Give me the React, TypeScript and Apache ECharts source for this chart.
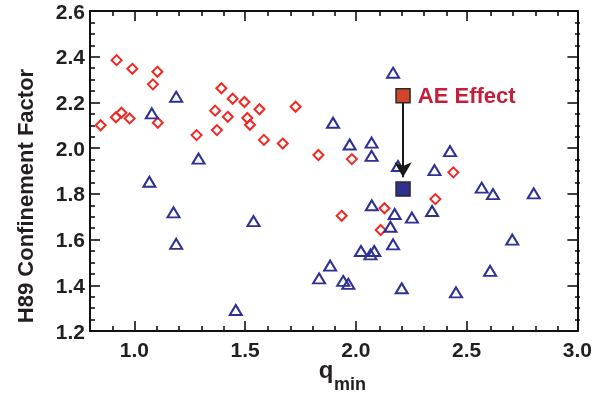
import React, { useEffect, useRef } from "react";
import * as echarts from "echarts";

// q_min values and H89 confinement factor
const diamondX = [0.848, 0.92, 0.917, 0.942, 0.979, 0.991, 1.084, 1.104, 1.106, 1.281, 1.373, 1.365, 1.393, 1.422, 1.444, 1.497, 1.51, 1.522, 1.565, 1.585, 1.67, 1.728, 1.831, 1.982, 2.44, 2.359, 2.129, 1.936, 2.112];
const diamondY = [2.10, 2.385, 2.135, 2.155, 2.13, 2.347, 2.279, 2.334, 2.111, 2.057, 2.079, 2.164, 2.262, 2.137, 2.216, 2.202, 2.132, 2.102, 2.17, 2.036, 2.02, 2.181, 1.97, 1.952, 1.894, 1.777, 1.737, 1.704, 1.642];

const triangleX = [1.079, 1.189, 1.068, 1.29, 1.177, 1.189, 1.538, 1.458, 1.897, 1.972, 2.071, 2.071, 2.19, 2.355, 2.425, 2.568, 2.619, 2.072, 2.175, 2.253, 2.344, 2.156, 2.168, 2.023, 2.066, 2.083, 1.884, 1.834, 1.943, 1.966, 2.207, 2.452, 2.606, 2.168, 2.803, 2.706];
const triangleY = [2.152, 2.225, 1.853, 1.954, 1.719, 1.581, 1.681, 1.292, 2.111, 2.016, 2.024, 1.966, 1.922, 1.904, 1.987, 1.827, 1.799, 1.75, 1.712, 1.696, 1.725, 1.656, 1.579, 1.55, 1.535, 1.55, 1.486, 1.43, 1.419, 1.406, 1.387, 1.369, 1.463, 2.33, 1.802, 1.6];

const aeX = 2.213;
const aeBefore = 2.229;
const aeAfter = 1.821;
const aeLabel = "AE Effect";

const xMajor = [1.0, 1.5, 2.0, 2.5, 3.0];
const xMinor = [0.9, 1.1, 1.2, 1.3, 1.4, 1.6, 1.7, 1.8, 1.9, 2.1, 2.2, 2.3, 2.4, 2.6, 2.7, 2.8, 2.9];
const yMajor = [1.2, 1.4, 1.6, 1.8, 2.0, 2.2, 2.4, 2.6];
const yMinor = [1.25, 1.3, 1.35, 1.45, 1.5, 1.55, 1.65, 1.7, 1.75, 1.85, 1.9, 1.95, 2.05, 2.1, 2.15, 2.25, 2.3, 2.35, 2.45, 2.5, 2.55];

const X_MIN = 0.8, X_MAX = 3.0, Y_MIN = 1.2, Y_MAX = 2.6;

const FONT = "'Liberation Sans', Arial, Helvetica, sans-serif";
const INK = "#231f20";

export default function App() {
  const ref = useRef<HTMLDivElement>(null);
  useEffect(() => {
    if (!ref.current) return;
    const chart = echarts.init(ref.current, undefined, { renderer: "svg" });
    const gridRect = { left: 90, top: 11, right: 15, bottom: 63 };
    const lineStyle = { color: "#111", width: 2 };
    const mkX = (grid: number, pos: string, major: boolean, labels: boolean) => ({
      type: "value", gridIndex: grid, position: pos, min: X_MIN, max: X_MAX,
      axisLine: { show: major, onZero: false, lineStyle },
      axisTick: { show: true, inside: true, length: major ? 10 : 5, customValues: major ? xMajor : xMinor, lineStyle: { color: "#111", width: 1.6 } },
      axisLabel: labels ? { show: true, customValues: xMajor, formatter: (v: number) => v.toFixed(1), fontFamily: FONT, fontWeight: "bold", fontSize: 21, color: INK, margin: 8 } : { show: false },
      splitLine: { show: false },
    });
    const mkY = (grid: number, pos: string, major: boolean, labels: boolean) => ({
      type: "value", gridIndex: grid, position: pos, min: Y_MIN, max: Y_MAX,
      axisLine: { show: major, onZero: false, lineStyle },
      axisTick: { show: true, inside: true, length: major ? 10 : 5, customValues: major ? yMajor : yMinor, lineStyle: { color: "#111", width: 1.6 } },
      axisLabel: labels ? { show: true, customValues: yMajor, formatter: (v: number) => v.toFixed(1), fontFamily: FONT, fontWeight: "bold", fontSize: 21, color: INK, margin: 5 } : { show: false },
      splitLine: { show: false },
    });
    chart.setOption({
      animation: false,
      grid: [{ ...gridRect }, { ...gridRect }],
      xAxis: [mkX(0, "bottom", true, true), mkX(0, "top", true, false), mkX(1, "bottom", false, false), mkX(1, "top", false, false)],
      yAxis: [mkY(0, "left", true, true), mkY(0, "right", true, false), mkY(1, "left", false, false), mkY(1, "right", false, false)],
      graphic: [
        { type: "text", x: 25, y: 196, rotation: Math.PI / 2, style: { text: "H89 Confinement Factor", font: `bold 22px ${FONT}`, fill: INK, align: "center", verticalAlign: "middle" } },
        { type: "text", x: 326, y: 369, style: { text: "q", font: `bold 24px ${FONT}`, fill: INK, align: "center", verticalAlign: "middle" } },
        { type: "text", x: 334, y: 384, style: { text: "min", font: `bold 18px ${FONT}`, fill: INK, align: "left", verticalAlign: "middle" } },
      ],
      series: [
        {
          type: "scatter", xAxisIndex: 0, yAxisIndex: 0, symbol: "diamond", symbolSize: [10, 10],
          itemStyle: { color: "rgba(255,255,255,0)", borderColor: "#ee2a24", borderWidth: 2, opacity: 1 },
          data: diamondX.map((x, i) => [x, diamondY[i]]), z: 3,
        },
        {
          type: "scatter", xAxisIndex: 0, yAxisIndex: 0, symbol: "triangle", symbolSize: [12, 10],
          itemStyle: { color: "rgba(255,255,255,0)", borderColor: "#2e3192", borderWidth: 2, opacity: 1 },
          data: triangleX.map((x, i) => [x, triangleY[i]]), z: 3,
        },
        {
          type: "line", xAxisIndex: 0, yAxisIndex: 0, data: [], z: 4,
          markLine: {
            silent: true, symbol: ["none", "arrow"], symbolSize: [13, 15],
            lineStyle: { color: "#1a1a1a", width: 2, type: "solid", opacity: 1 }, label: { show: false },
            data: [[{ coord: [aeX, aeBefore - 0.03] }, { coord: [aeX, aeAfter + 0.052] }]],
          },
        },
        {
          type: "scatter", xAxisIndex: 0, yAxisIndex: 0, symbol: "rect", symbolSize: 14, z: 5,
          itemStyle: { color: "#d2452b", borderColor: "#2a2a2a", borderWidth: 1.5, opacity: 1 },
          label: { show: true, position: "right", distance: 7, formatter: aeLabel, fontFamily: FONT, fontWeight: "bold", fontSize: 22, color: "#c41e3a" },
          data: [[aeX, aeBefore]],
        },
        {
          type: "scatter", xAxisIndex: 0, yAxisIndex: 0, symbol: "rect", symbolSize: 14, z: 5,
          itemStyle: { color: "#2e3192", borderColor: "#2a2a2a", borderWidth: 1.5, opacity: 1 },
          data: [[aeX, aeAfter]],
        },
      ],
    });
    return () => chart.dispose();
  }, []);
  return <div ref={ref} style={{ position: "fixed", left: 0, top: 0, width: 595, height: 394 }} />;
}
